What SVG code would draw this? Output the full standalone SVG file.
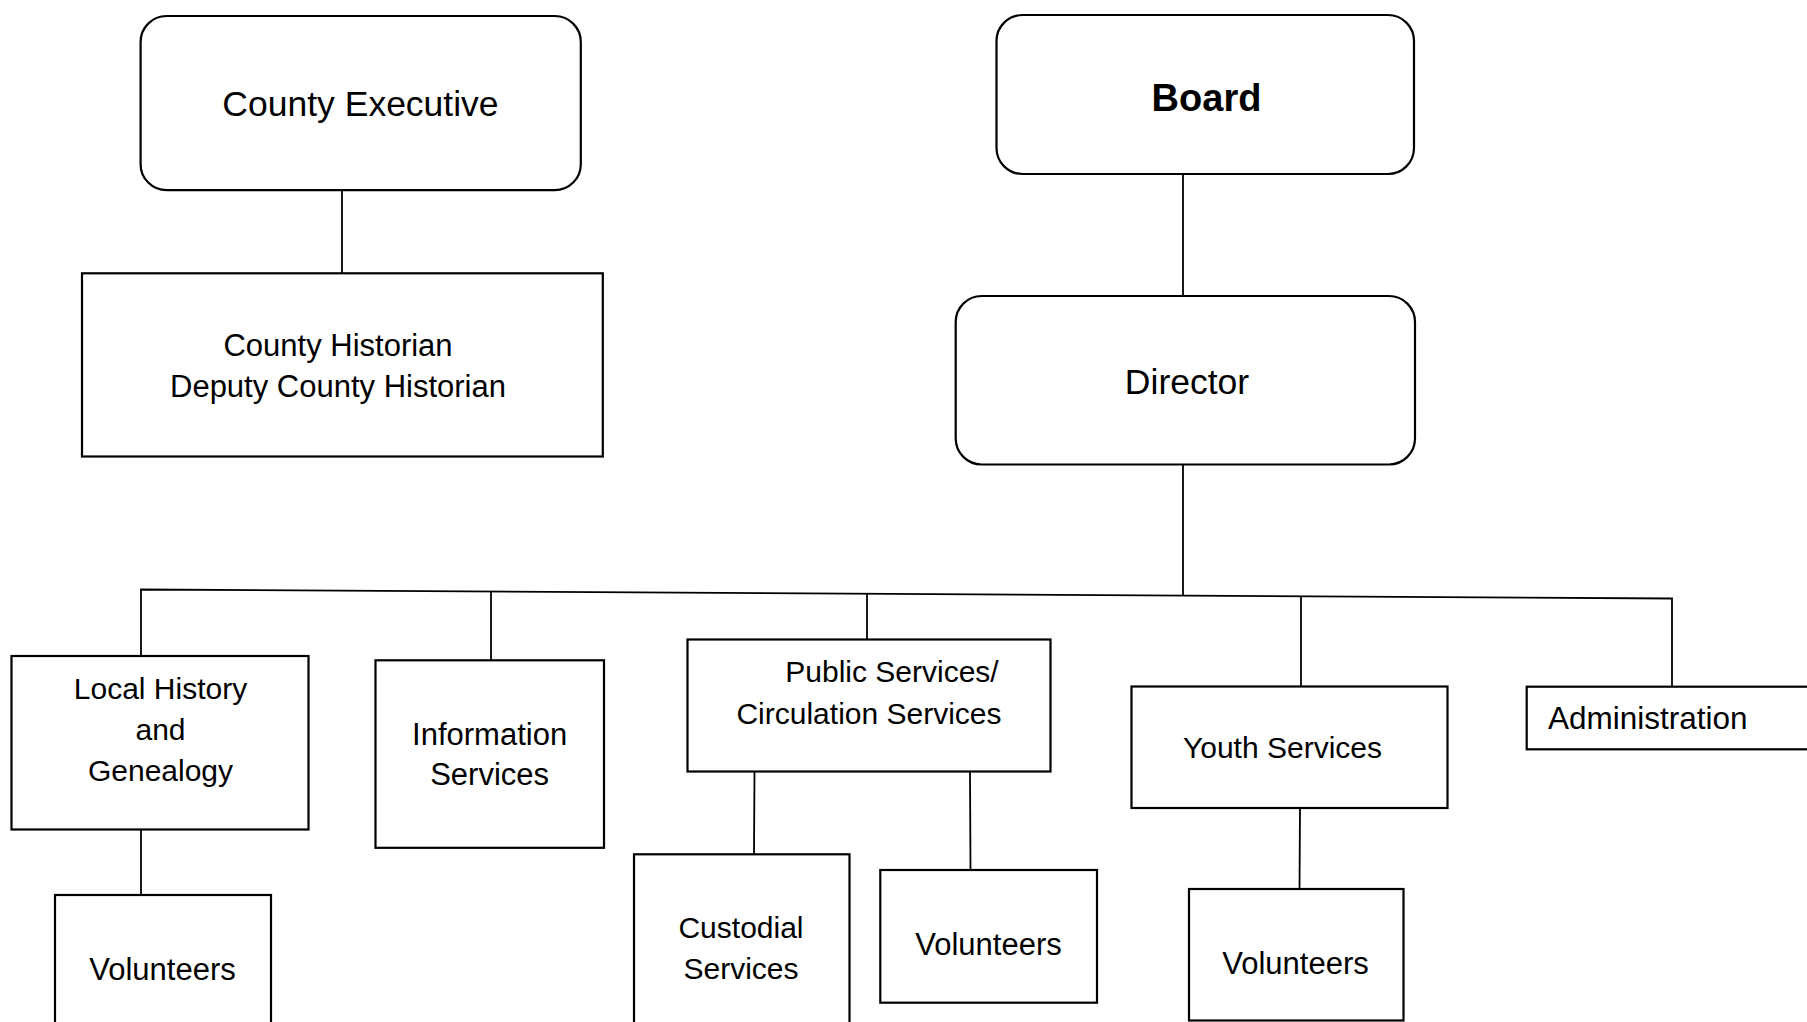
<svg xmlns="http://www.w3.org/2000/svg" width="1807" height="1022" viewBox="0 0 1807 1022">
<style>
.box{fill:#fff;stroke:#000;stroke-width:2.2}
.con{fill:none;stroke:#000;stroke-width:1.8}
text{font-family:"Liberation Sans",Arial,sans-serif;fill:#000;text-anchor:middle}
.t{font-size:30px}
.tv{font-size:31px}
.tl{font-size:35.5px}
.tb{font-size:38px;font-weight:bold}
</style>
<rect width="1807" height="1022" fill="#fff"/>
<g id="connectors">
<line class="con" x1="342" y1="190" x2="342" y2="273"/>
<line class="con" x1="1183" y1="174" x2="1183" y2="296"/>
<line class="con" x1="1183" y1="464" x2="1183" y2="595.6"/>
<polyline class="con" points="141,656 141,589.5 1672,598.5 1672,687"/>
<line class="con" x1="491" y1="591.6" x2="491" y2="660"/>
<line class="con" x1="867" y1="593.8" x2="867" y2="639.5"/>
<line class="con" x1="1301" y1="596.3" x2="1301" y2="686.5"/>
<line class="con" x1="141" y1="829.5" x2="141" y2="895"/>
<line class="con" x1="754.5" y1="771.5" x2="754" y2="854"/>
<line class="con" x1="970" y1="771.5" x2="970.5" y2="870"/>
<line class="con" x1="1300" y1="808" x2="1299.5" y2="889"/>
</g>
<g id="county-executive">
<rect class="box" x="140.6" y="16" width="440.2" height="174.2" rx="26" ry="26"/>
<text class="tl" x="360.5" y="116">County Executive</text>
</g>
<g id="county-historian">
<rect class="box" x="82" y="273.3" width="520.8" height="183.2"/>
<text class="tv" x="338" y="355.5">County Historian</text>
<text class="tv" x="338" y="396.5">Deputy County Historian</text>
</g>
<g id="board">
<rect class="box" x="996.5" y="15" width="417.5" height="159" rx="26" ry="26"/>
<text class="tb" x="1206.5" y="110.5">Board</text>
</g>
<g id="director">
<rect class="box" x="955.7" y="296" width="459.3" height="168.5" rx="26" ry="26"/>
<text class="tl" x="1187" y="393.5">Director</text>
</g>
<g id="local-history">
<rect class="box" x="11.5" y="656" width="297" height="173.5"/>
<text class="t" x="160.5" y="699.3">Local History</text>
<text class="t" x="160.5" y="740">and</text>
<text class="t" x="160.5" y="780.5">Genealogy</text>
</g>
<g id="volunteers-local">
<rect class="box" x="55" y="895" width="216" height="140"/>
<text class="tv" x="162.5" y="980">Volunteers</text>
</g>
<g id="information-services">
<rect class="box" x="375.5" y="660.3" width="228.5" height="187.5"/>
<text class="tv" x="489.6" y="745">Information</text>
<text class="tv" x="489.6" y="785">Services</text>
</g>
<g id="public-services">
<rect class="box" x="687.5" y="639.5" width="363" height="132"/>
<text class="t" x="892" y="682">Public Services/</text>
<text class="t" x="869" y="723.7">Circulation Services</text>
</g>
<g id="custodial-services">
<rect class="box" x="634" y="854.3" width="215.5" height="180"/>
<text class="t" x="741" y="937.7">Custodial</text>
<text class="t" x="741" y="979">Services</text>
</g>
<g id="volunteers-public">
<rect class="box" x="880.3" y="870" width="216.7" height="132.7"/>
<text class="tv" x="988.5" y="955">Volunteers</text>
</g>
<g id="youth-services">
<rect class="box" x="1131.5" y="686.5" width="316" height="121.5"/>
<text class="t" x="1282.5" y="758.3">Youth Services</text>
</g>
<g id="volunteers-youth">
<rect class="box" x="1189" y="889" width="214.5" height="131.5"/>
<text class="tv" x="1295.5" y="974">Volunteers</text>
</g>
<g id="administration">
<rect class="box" x="1526.7" y="686.7" width="300" height="62.6"/>
<text class="t" x="1548" y="729.3" style="text-anchor:start;font-size:31.5px">Administration</text>
</g>
</svg>
